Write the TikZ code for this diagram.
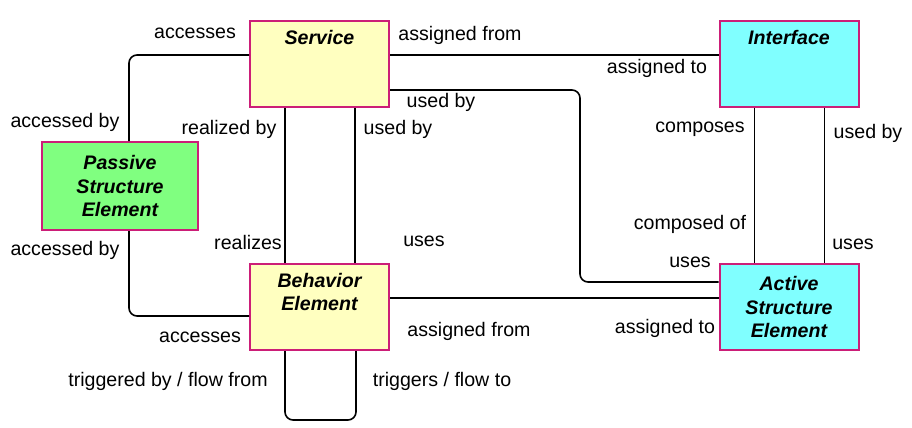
\documentclass[tikz,border=0pt]{standalone}
\usepackage{fontspec}
\setmainfont{Liberation Sans}
\usetikzlibrary{positioning}
\definecolor{edgeRed}{RGB}{204,30,120}
\definecolor{svcYellow}{RGB}{255,255,192}
\definecolor{pasGreen}{RGB}{128,255,128}
\definecolor{actCyan}{RGB}{128,255,255}
\tikzset{
  elem/.style={draw=edgeRed, line width=1pt, minimum width=69.5pt, minimum height=43pt, inner sep=0pt, align=center, font=\fontsize{9.8}{11.6}\selectfont\bfseries\itshape},
  title/.style={anchor=north, yshift=-5pt, font=\fontsize{9.8}{11.6}\selectfont\bfseries\itshape, align=center, inner sep=0pt},
  rel/.style={font=\fontsize{9.8}{11.8}\selectfont, inner sep=0pt},
  link/.style={line width=.8pt, rounded corners=4pt}
}
\begin{document}
\begin{tikzpicture}[x=.5pt, y=-.5pt]
\useasboundingbox (0,0) rectangle (912,428);
% elements
\node[elem, fill=svcYellow, label={[title, name=svct]north:Service}] (svc) at (319.5,64) {};
\node[elem, fill=actCyan, label={[title, name=itft]north:Interface}] (itf) at (789,64) {};
\node[elem, fill=pasGreen, minimum width=78pt, minimum height=44pt] (pas) at (120,186) {Passive\\Structure\\Element};
\node[elem, fill=svcYellow, label={[title, name=beht]north:Behavior\\Element}] (beh) at (319.5,307) {};
\node[elem, fill=actCyan] (act) at (789,307) {Active\\Structure\\Element};
\coordinate (cnr) at (580,200);
\coordinate (loop) at (319.5,420);
% relations
\draw[link] ([yshift=4.5pt]svc.west) -| ([xshift=4.5pt]pas.north);
\draw[link] ([xshift=4.5pt]pas.south) |- ([yshift=-4.5pt]beh.west);
\draw[link] ([yshift=4.5pt]svc.east) -- ([yshift=4.5pt]itf.west);
\draw[link] ([yshift=-13pt]svc.east) -| (cnr) |- ([yshift=12.5pt]act.west);
\draw[link] ([yshift=4.5pt]beh.east) -- ([yshift=4.5pt]act.west);
\foreach \d in {-17.25,17.75} {
  \draw[link] ([xshift=\d pt]svc.south) -- ([xshift=\d pt]beh.north);
  \draw[link] ([xshift=\d pt]itf.south) -- ([xshift=\d pt]act.north);
}
\draw[link] ([xshift=-17.25pt]beh.south) |- (loop) -| ([xshift=18.25pt]beh.south);
% labels
\node[rel] (l1) at (195,33) {accesses};
\node[rel] (l2) at (460,35) {assigned from};
\node[rel] (l3) at (657,68) {assigned to};
\node[rel] (l4) at (441,102) {used by};
\node[rel] (l5) at (65,122) {accessed by};
\node[rel] (l6) at (229,129) {realized by};
\node[rel] (l7) at (398,129) {used by};
\node[rel] (l8) at (700,129) {composes};
\node[rel] (l9) at (868,133) {used by};
\node[rel] (l10) at (690,224) {composed of};
\node[rel] (l11) at (65,250) {accessed by};
\node[rel] (l12) at (248,242) {realizes};
\node[rel] (l13) at (424,241) {uses};
\node[rel] (l14) at (853,244) {uses};
\node[rel] (l15) at (690,262) {uses};
\node[rel] (l16) at (200,337) {accesses};
\node[rel] (l17) at (469,331) {assigned from};
\node[rel] (l18) at (665,328) {assigned to};
\node[rel] (l19) at (168,381) {triggered by / flow from};
\node[rel] (l20) at (442,381) {triggers / flow to};
\end{tikzpicture}
\end{document}
